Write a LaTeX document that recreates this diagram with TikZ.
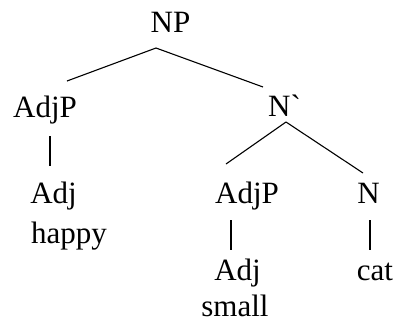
\documentclass[tikz,border=0pt]{standalone}
\usepackage{fontspec}
\setmainfont{Liberation Serif}
\newfontfamily\gravefont{Liberation Serif}[Ligatures=TeXOff]
\usetikzlibrary{calc}
\begin{document}
\begin{tikzpicture}[x=1pt,y=-1pt,
  lbl/.style={anchor=base,inner sep=0pt,font=\fontsize{31}{37}\selectfont},
  edge/.style={line width=1.1pt,black}]
\useasboundingbox (0,0) rectangle (398,333);
\node[lbl] (NP) at (170.5,32) {NP};
\node[lbl] (AdjPa) at (45,117) {AdjP};
\node[lbl] (Nbar) at (284.5,116) {N{\gravefont`}};
\node[lbl] (Adja) at (53.5,203) {Adj};
\node[lbl] (happy) at (69,243) {happy};
\node[lbl] (AdjPb) at (247,203) {AdjP};
\node[lbl] (N) at (368.5,203) {N};
\node[lbl] (Adjb) at (237.5,280) {Adj};
\node[lbl] (cat) at (375,280) {cat};
\node[lbl] (small) at (235,316) {small};
\draw[edge] ([shift={(-14.5,16)}]NP.base) -- ([shift={(22,-36)}]AdjPa.base);
\draw[edge] ([shift={(-14.5,16)}]NP.base) -- ([shift={(-21.5,-29)}]Nbar.base);
\draw[edge] ([shift={(1.5,6)}]Nbar.base) -- ([shift={(-21,-39)}]AdjPb.base);
\draw[edge] ([shift={(1.5,6)}]Nbar.base) -- ([shift={(-5.5,-30)}]N.base);
\draw[edge] ([shift={(5,19)}]AdjPa.base) -- ([shift={(-3.5,-37)}]Adja.base);
\draw[edge] ([shift={(-16,17)}]AdjPb.base) -- ([shift={(-6.5,-30)}]Adjb.base);
\draw[edge] ([shift={(1.5,17)}]N.base) -- ([shift={(-5,-30)}]cat.base);
\end{tikzpicture}
\end{document}
